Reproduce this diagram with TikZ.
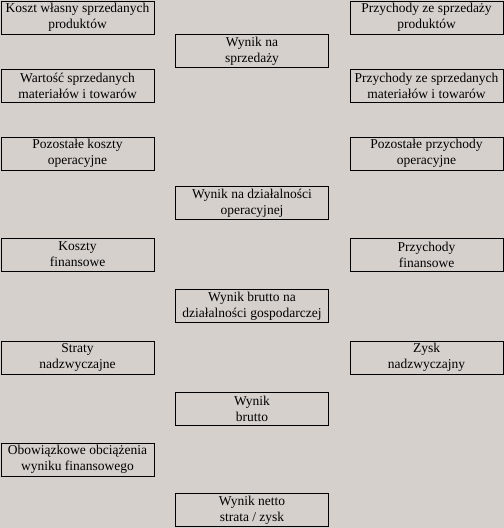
\documentclass[tikz,border=0pt]{standalone}
\usepackage{fontspec}
\setmainfont{Liberation Serif}
\definecolor{bg}{RGB}{214,208,204}
\begin{document}
\begin{tikzpicture}[x=1bp,y=-1bp,
  box/.style={draw=black,line width=0.9bp,minimum width=153bp,minimum height=33bp,inner sep=0pt,align=center,
    font=\fontsize{13.5bp}{16bp}\selectfont},
  ]
\fill[bg] (0,0) rectangle (504,528);
\useasboundingbox (0,0) rectangle (504,528);
% left column
\node[box] (k1) at (77.5,17.5) {Koszt własny sprzedanych\\produktów};
\node[box] (k2) at (77.5,85.5) {Wartość sprzedanych\\materiałów i towarów};
\node[box] (k3) at (77.5,153.5) {Pozostałe koszty\\operacyjne};
\node[box] (k4) at (77.5,254.5) {Koszty\\finansowe};
\node[box] (k5) at (77.5,357.5) {Straty\\nadzwyczajne};
\node[box] (k6) at (77.5,459.5) {Obowiązkowe obciążenia\\wyniku finansowego};
% middle column
\node[box] (w1) at (252,51) {Wynik na\\sprzedaży};
\node[box] (w2) at (252,203) {Wynik na działalności\\operacyjnej};
\node[box] (w3) at (252,306) {Wynik brutto na\\działalności gospodarczej};
\node[box] (w4) at (252,408.5) {Wynik\\brutto};
\node[box] (w5) at (252,510) {Wynik netto\\strata / zysk};
% right column
\node[box] (p1) at (426.5,17.5) {Przychody ze sprzedaży\\produktów};
\node[box] (p2) at (426.5,85.5) {Przychody ze sprzedanych\\materiałów i towarów};
\node[box] (p3) at (426.5,153.5) {Pozostałe przychody\\operacyjne};
\node[box] (p4) at (426.5,254.5) {Przychody\\finansowe};
\node[box] (p5) at (426.5,357.5) {Zysk\\nadzwyczajny};
\end{tikzpicture}
\end{document}
